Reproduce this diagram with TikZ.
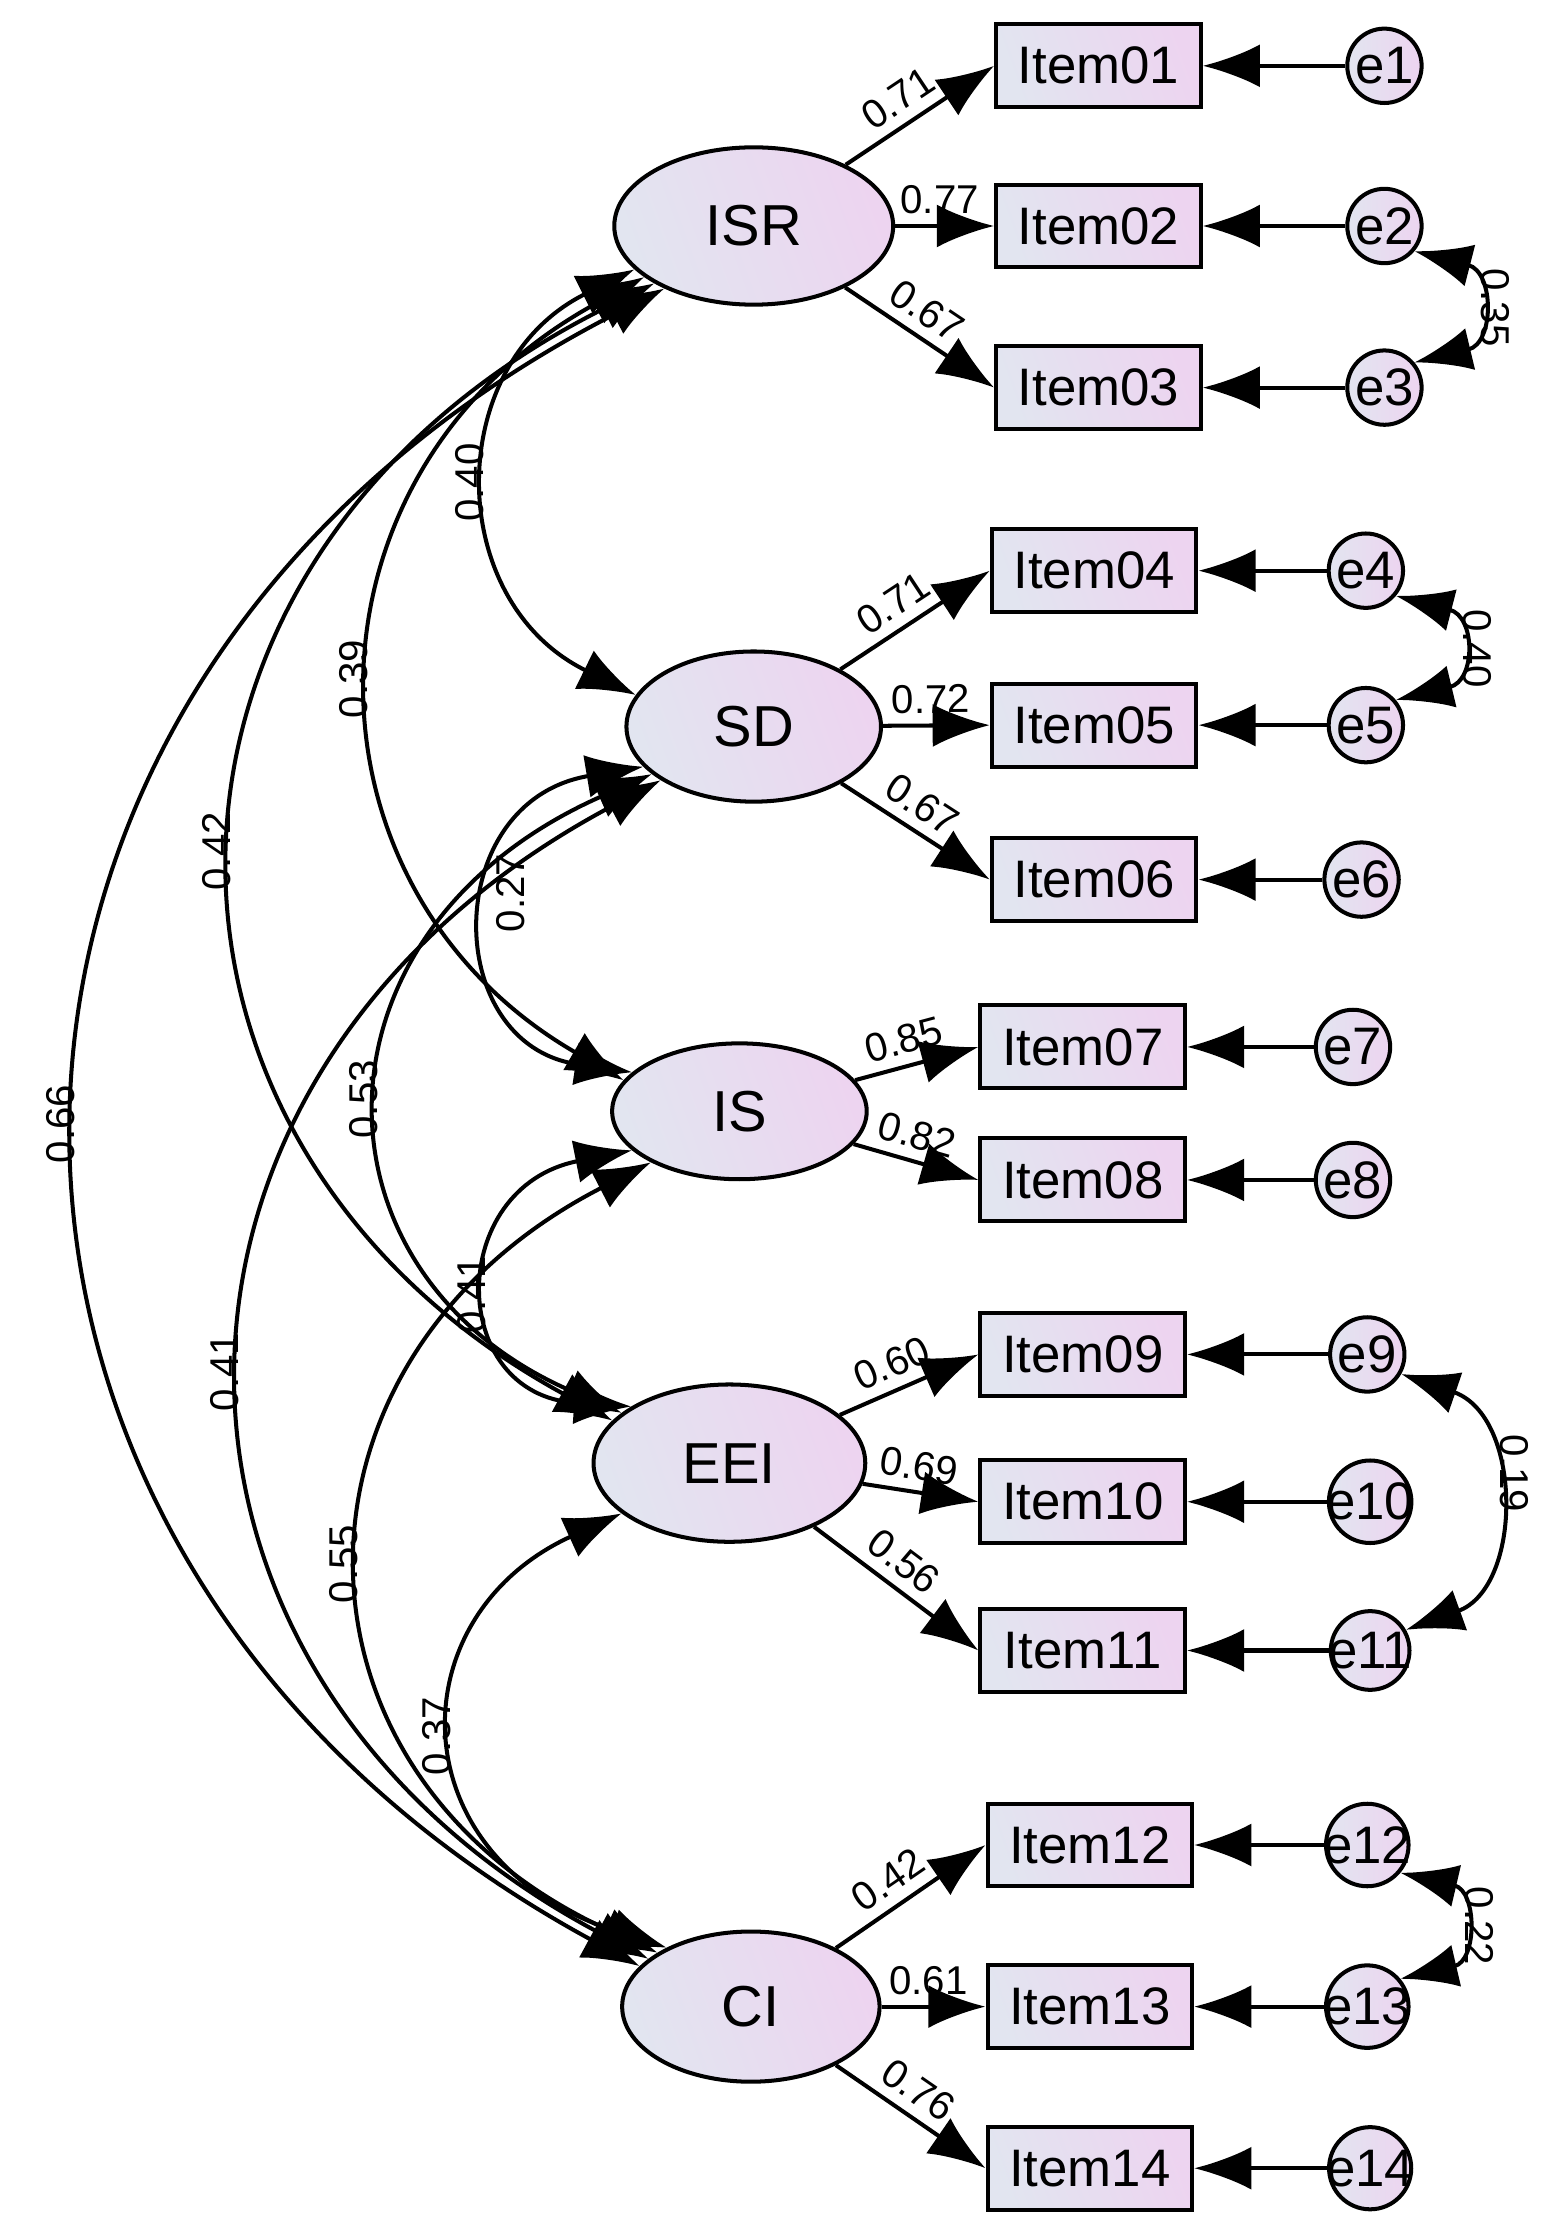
\documentclass[tikz,border=0pt]{standalone}
\usepackage{fontspec}
\setmainfont{Liberation Sans}
\usetikzlibrary{arrows.meta,shapes.geometric}
\definecolor{shadeL}{RGB}{226,229,240}
\definecolor{shadeR}{RGB}{237,212,240}
\tikzset{
  lat/.style = {ellipse, draw, line width=0.8pt, shading=axis, left color=shadeL,
    right color=shadeR, shading angle=110, inner sep=0pt,
    font=\fontsize{11.5}{14}\selectfont},
  item/.style = {rectangle, draw, line width=0.8pt, shading=axis, left color=shadeL,
    right color=shadeR, shading angle=110, minimum width=14.3mm, minimum height=5.8mm,
    inner sep=0pt, font=\fontsize{10.5}{13}\selectfont},
  err/.style = {circle, draw, line width=0.8pt, shading=axis, left color=shadeL,
    right color=shadeR, minimum size=5.2mm, inner sep=-1pt,
    font=\fontsize{10.5}{13}\selectfont},
  path/.style = {line width=0.8pt, -{Latex[length=4mm,width=3mm]}},
  cov/.style = {line width=0.8pt, {Latex[length=4mm,width=3mm]}-{Latex[length=4mm,width=3mm]}},
  num/.style = {font=\fontsize{8}{10}\selectfont, inner sep=1pt}
}
\begin{document}
\begin{tikzpicture}[x=0.1mm,y=-0.1mm]
    \useasboundingbox (0,0) rectangle (1085,1562);
    % latent factors
    \node[lat, minimum width=19.5mm, minimum height=11mm] (ISR) at (527,158) {ISR};
    \node[lat, minimum width=17.8mm, minimum height=10.5mm] (SD) at (527,508) {SD};
    \node[lat, minimum width=17.8mm, minimum height=9.5mm] (IS) at (517,777) {IS};
    \node[lat, minimum width=19mm, minimum height=11mm] (EEI) at (510,1023) {EEI};
    \node[lat, minimum width=18mm, minimum height=10.5mm] (CI) at (525,1403) {CI};

    % observed items and errors
    \foreach \n/\x/\y/\ex in {01/768/46/968, 02/768/158/968, 03/768/271/968,
        04/765/399/955, 05/765/507/955, 06/765/615/952, 07/757/732/946,
        08/757/825/946, 09/757/947/956, 10/757/1050/958, 11/757/1154/958,
        12/762/1290/956, 13/762/1403/956, 14/762/1516/958} {
      \node[item] (it\n) at (\x,\y) {Item\n};
      \pgfmathtruncatemacro\k{\n}
      \node[err] (e\k) at (\ex,\y) {e\k};
      \draw[path] (e\k) -- (it\n.east);
    }

    % loadings
    \foreach \f/\n/\v in {ISR/01/0.71, ISR/02/0.77, ISR/03/0.67,
        SD/04/0.71, SD/05/0.72, SD/06/0.67, IS/07/0.85, IS/08/0.82,
        EEI/09/0.60, EEI/10/0.69, EEI/11/0.56,
        CI/12/0.42, CI/13/0.61, CI/14/0.76} {
      \draw[path] (\f) -- node[num, sloped, above=1pt, pos=0.45] {\v} (it\n.west);
    }

    % factor covariances
    \draw[cov] (ISR.200) .. controls (310,255) and (310,420) .. node[num, rotate=90, anchor=south, pos=0.5] {0.40} (SD.165);
    \draw[cov] (ISR.205) .. controls (202,330) and (202,620) .. node[num, rotate=90, anchor=south, pos=0.5] {0.39} (IS.165);
    \draw[cov] (ISR.210) .. controls (74,390) and (74,800) .. node[num, rotate=90, anchor=south, pos=0.5] {0.42} (EEI.160);
    \draw[cov] (ISR.215) .. controls (-76,480) and (-76,1090) .. node[num, rotate=90, anchor=south, pos=0.5] {0.66} (CI.160);
    \draw[cov] (SD.200) .. controls (308,560) and (308,730) .. node[num, rotate=90, anchor=north, pos=0.5, xshift=2mm] {0.27} (IS.160);
    \draw[cov] (SD.205) .. controls (210,650) and (210,890) .. node[num, rotate=90, anchor=south, pos=0.5] {0.53} (EEI.155);
    \draw[cov] (SD.210) .. controls (77,750) and (77,1170) .. node[num, rotate=90, anchor=south, pos=0.5] {0.41} (CI.155);
    \draw[cov] (IS.200) .. controls (312,830) and (312,975) .. node[num, rotate=90, anchor=south, pos=0.5, xshift=-0.5mm] {0.41} (EEI.150);
    \draw[cov] (IS.210) .. controls (188,950) and (188,1240) .. node[num, rotate=90, anchor=south, pos=0.5] {0.55} (CI.150);
    \draw[cov] (EEI.205) .. controls (277,1130) and (277,1300) .. node[num, rotate=90, anchor=south, pos=0.5] {0.37} (CI.145);

    % error covariances
    \draw[cov] (e2.-40) .. controls (1045,190) and (1045,240) .. node[num, rotate=-90, anchor=south, pos=0.5] {0.35} (e3.40);
    \draw[cov] (e4.-40) .. controls (1032,431) and (1032,476) .. node[num, rotate=-90, anchor=south, pos=0.5] {0.40} (e5.40);
    \draw[cov] (e9.-30) .. controls (1065,990) and (1065,1110) .. node[num, rotate=-90, anchor=south, pos=0.5, xshift=-2mm] {0.19} (e11.30);
    \draw[cov] (e12.-40) .. controls (1033,1322) and (1033,1371) .. node[num, rotate=-90, anchor=south, pos=0.5] {0.22} (e13.40);
\end{tikzpicture}
\end{document}
